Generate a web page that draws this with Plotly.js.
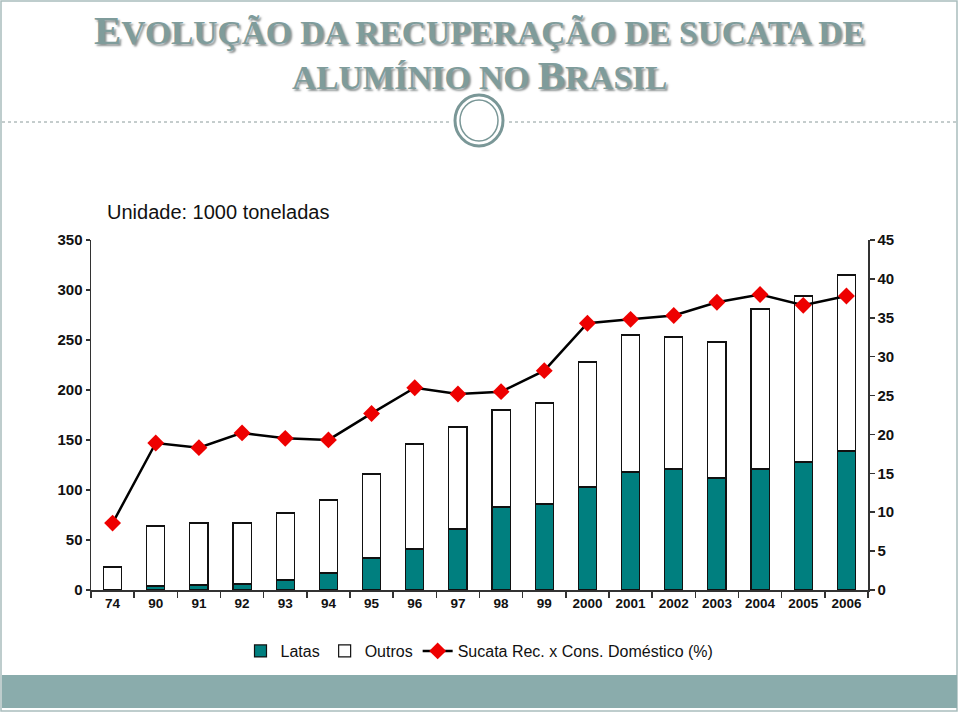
<!DOCTYPE html>
<html>
<head>
<meta charset="utf-8">
<script src="https://cdn.plot.ly/plotly-3.0.1.min.js"></script>
<style>
  html, body { margin: 0; padding: 0; background: #ffffff; }
  #chart { width: 960px; height: 712px; }
</style>
</head>
<body>
<div id="chart"></div>
<script>
// ---- data ----
const categories = ['74','90','91','92','93','94','95','96','97','98','99','2000','2001','2002','2003','2004','2005','2006'];
const latas  = [0, 4, 5, 6, 10, 17, 32, 41, 61, 83, 86, 103, 118, 121, 112, 121, 128, 139];
const outros = [23, 60, 62, 61, 67, 73, 84, 105, 102, 97, 101, 125, 137, 132, 136, 160, 166, 176];
const sucataPct = [8.6, 18.9, 18.3, 20.2, 19.5, 19.3, 22.7, 26.0, 25.2, 25.5, 28.2, 34.3, 34.8, 35.3, 37.0, 38.0, 36.6, 37.8];
const leftTicks = [0, 50, 100, 150, 200, 250, 300, 350];
const rightTicks = [0, 5, 10, 15, 20, 25, 30, 35, 40, 45];

// ---- page geometry (pixels) ----
const W = 960, H = 712;
const M = {l: 91, r: 92, t: 240, b: 122};
const PW = W - M.l - M.r, PH = H - M.t - M.b;
const px = x => (x - M.l) / PW;
const py = y => (H - M.b - y) / PH;

const teal = '#007f7f';
const titleColor = '#7f9c9b';
const sans = 'Liberation Sans, Arial, sans-serif';
const serif = 'Liberation Serif, Times New Roman, serif';

const traces = [
  {
    type: 'bar', name: 'Latas', x: categories, y: latas,
    marker: {color: teal, line: {color: '#111111', width: 1.2}},
    hoverinfo: 'x+y'
  },
  {
    type: 'bar', name: 'Outros', x: categories, y: outros,
    marker: {color: '#ffffff', line: {color: '#111111', width: 1.2}},
    hoverinfo: 'x+y'
  },
  {
    type: 'scatter', mode: 'lines+markers', name: 'Sucata Rec. x Cons. Doméstico (%)',
    x: categories, y: sucataPct, yaxis: 'y2',
    line: {color: '#000000', width: 2.5},
    marker: {symbol: 'diamond', size: 13, color: '#ee0000', line: {color: '#ee0000', width: 0}},
    cliponaxis: false
  }
];

const big = s => '<span style="font-size:41px">' + s + '</span>';
const line1 = big('E') + 'VOLUÇÃO DA RECUPERAÇÃO DE SUCATA DE';
const line2 = 'ALUMÍNIO NO ' + big('B') + 'RASIL';

function titleAnn(text, x, y) {
  return {
    xref: 'paper', yref: 'paper', x: px(x), y: py(y),
    xanchor: 'center', yanchor: 'middle', showarrow: false,
    text: text,
    font: {family: serif, size: 33.5, color: titleColor, weight: 'bold',
           shadow: '2px 2px 2px rgba(50,60,60,0.55)'}
  };
}

const annotations = [
  titleAnn(line1, 480, 30),
  titleAnn(line2, 480, 75),
  {
    xref: 'paper', yref: 'paper', x: px(105), y: py(212),
    xanchor: 'left', yanchor: 'middle', showarrow: false,
    text: 'Unidade: 1000 toneladas',
    font: {family: sans, size: 20, color: '#111111'}
  }
];

const shapes = [
  // slide border
  {type: 'rect', xref: 'paper', yref: 'paper', x0: px(1), x1: px(957), y0: py(1), y1: py(711),
   line: {color: '#a9bdbd', width: 1.5}, fillcolor: 'rgba(0,0,0,0)', layer: 'below'},
  // bottom band
  {type: 'rect', xref: 'paper', yref: 'paper', x0: px(2), x1: px(957), y0: py(675), y1: py(708),
   line: {width: 0}, fillcolor: '#8aacac', layer: 'below'},
  // dotted separator
  {type: 'line', xref: 'paper', yref: 'paper', x0: px(2), x1: px(449), y0: py(122), y1: py(122),
   line: {color: '#8a9a9a', width: 1, dash: 'dot'}},
  {type: 'line', xref: 'paper', yref: 'paper', x0: px(509), x1: px(957), y0: py(122), y1: py(122),
   line: {color: '#8a9a9a', width: 1, dash: 'dot'}},
  // ornament rings
  {type: 'circle', xref: 'paper', yref: 'paper', x0: px(455), x1: px(503), y0: py(95), y1: py(146),
   line: {color: '#7a9797', width: 3}, fillcolor: '#ffffff'},
  {type: 'circle', xref: 'paper', yref: 'paper', x0: px(460), x1: px(498), y0: py(100), y1: py(141),
   line: {color: '#7a9797', width: 1.5}, fillcolor: 'rgba(0,0,0,0)'}
];

const layout = {
  width: W, height: H,
  margin: M,
  paper_bgcolor: '#ffffff', plot_bgcolor: '#ffffff',
  barmode: 'stack', bargap: 0.58,
  showlegend: true,
  legend: {
    orientation: 'h', x: 0.5, xanchor: 'center', y: py(651), yanchor: 'middle',
    font: {family: sans, size: 16, color: '#111111'}, traceorder: 'normal',
    bgcolor: 'rgba(0,0,0,0)'
  },
  xaxis: {
    type: 'category', range: [-0.5, categories.length - 0.5], autorange: false,
    showline: true, linecolor: '#333333', linewidth: 1.5,
    ticks: 'outside', tickson: 'boundaries', ticklen: 6, tickcolor: '#333333', tickwidth: 1.5,
    tickfont: {family: sans, size: 13.5, color: '#111111', weight: 'bold'},
    showgrid: false, zeroline: false, fixedrange: true
  },
  yaxis: {
    range: [0, 350], tickvals: leftTicks, ticktext: leftTicks.map(String),
    showline: true, linecolor: '#333333', linewidth: 1.5,
    ticks: 'outside', ticklen: 4, tickcolor: '#333333', tickwidth: 1.5,
    tickfont: {family: sans, size: 15, color: '#111111', weight: 'bold'},
    showgrid: false, zeroline: false, fixedrange: true
  },
  yaxis2: {
    range: [0, 45], tickvals: rightTicks, ticktext: rightTicks.map(String),
    overlaying: 'y', side: 'right',
    showline: true, linecolor: '#333333', linewidth: 1.5,
    ticks: 'outside', ticklen: 5, tickcolor: '#333333', tickwidth: 1.5,
    tickfont: {family: sans, size: 15, color: '#111111', weight: 'bold'},
    showgrid: false, zeroline: false, fixedrange: true
  },
  annotations: annotations,
  shapes: shapes
};

Plotly.newPlot('chart', traces, layout, {displayModeBar: false, staticPlot: true});
</script>
</body>
</html>
